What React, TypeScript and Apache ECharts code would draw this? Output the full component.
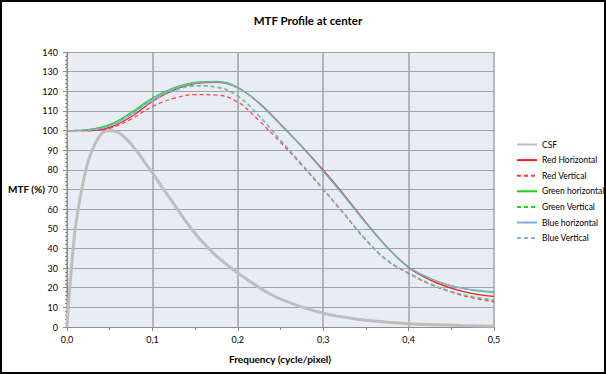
import React, { useEffect, useRef } from "react";
import * as echarts from "echarts";

const freq = [0, 0.025, 0.05, 0.075, 0.1, 0.125, 0.15, 0.175, 0.2, 0.225, 0.25, 0.275, 0.3, 0.325, 0.35, 0.375, 0.4, 0.425, 0.45, 0.475, 0.5];

const redH = [100, 100, 101.6, 107, 114.8, 120.6, 123.9, 124.5, 121.8, 114, 103.3, 92, 80, 67, 53.3, 40.6, 30.3, 24, 19.8, 17, 15.6];
const redV = [100, 100, 101.2, 105.8, 112.2, 116.4, 118.3, 118.1, 114.5, 105, 94, 82.3, 70, 57.2, 44.2, 33.8, 27.3, 21.8, 17.7, 14.8, 12.8];
const greenH = [100, 100.5, 103, 109.2, 116.6, 121.8, 124.6, 125.1, 121.9, 113.8, 103, 91.7, 79.4, 66.4, 52.9, 40.4, 30.6, 24.8, 21, 18.8, 17.6];
const greenV = [100, 100.5, 102.8, 108.7, 115.8, 120.6, 122.9, 122.2, 117.6, 107.5, 95.2, 82.9, 70.3, 57.5, 44.5, 34, 27.5, 22, 18, 15.3, 13.6];
const blueH = [100, 100.3, 102.4, 108.3, 115.8, 121.2, 124.2, 124.8, 121.8, 113.8, 103, 91.7, 79.5, 66.5, 53, 40.5, 30.6, 24.7, 20.9, 18.9, 18];
const blueV = [100, 100.3, 102.3, 107.9, 115, 120.1, 122.6, 122, 117.4, 107.3, 95.1, 82.9, 70.4, 57.6, 44.6, 34.1, 27.6, 22.1, 18.1, 15.5, 13.9];

const csfFreq = [0, 0.0025, 0.005, 0.0075, 0.01, 0.015, 0.02, 0.025, 0.03, 0.035, 0.04, 0.045, 0.05, 0.06, 0.07, 0.08, 0.09, 0.1, 0.11, 0.12, 0.13, 0.14, 0.15, 0.16, 0.17, 0.18, 0.19, 0.2, 0.22, 0.24, 0.26, 0.28, 0.3, 0.32, 0.34, 0.36, 0.38, 0.4, 0.43, 0.46, 0.5];
const csf = [0, 16, 29, 41, 51, 65, 76, 84.5, 90.5, 95, 98.3, 99.7, 100, 99, 95.5, 90.5, 84.5, 78.5, 72, 65.8, 59.5, 53.3, 47.6, 42.6, 38.2, 34.3, 30.8, 27.5, 21.5, 16.3, 12.5, 9.5, 7, 5.3, 4, 3, 2.3, 1.7, 1.2, 0.8, 0.4];

const legendNames = ["CSF", "Red Horizontal", "Red Vertical", "Green horizontal", "Green Vertical", "Blue horizontal", "Blue Vertical"];

const titleText = "MTF Profile at center";
const xName = "Frequency (cycle/pixel)";
const yName = "MTF (%)";

const FONT = "Lato, 'Open Sans', sans-serif";

function pairs(xs: number[], ys: number[]) {
  return xs.map((x, i) => [x, ys[i]]);
}

export default function App() {
  const ref = useRef<HTMLDivElement>(null);
  useEffect(() => {
    const chart = echarts.init(ref.current!, null, { renderer: "svg" });
    const mk = (name: string, data: number[], color: string, dashed: boolean) => ({
      name,
      type: "line",
      data: pairs(freq, data),
      smooth: 0.4,
      showSymbol: false,
      symbol: "none",
      lineStyle: { color, width: 1.2, type: dashed ? [4, 3] : "solid" },
      itemStyle: { color },
      z: 3,
    });
    chart.setOption({
      animation: false,
      backgroundColor: "#ffffff",
      textStyle: { fontFamily: FONT },
      grid: { left: 67, right: 112, top: 52, bottom: 47, show: true, backgroundColor: "#E8ECF5", borderWidth: 0 },
      graphic: [
        { type: "text", x: 308, y: 20, style: { text: titleText, font: `bold 11.5px ${FONT}`, fill: "#000", align: "center", verticalAlign: "middle" } },
        { type: "text", x: 280, y: 359, style: { text: xName, font: `bold 10px ${FONT}`, fill: "#000", align: "center", verticalAlign: "middle" } },
        { type: "text", x: 8, y: 189, style: { text: yName, font: `bold 10px ${FONT}`, fill: "#000", align: "left", verticalAlign: "middle" } },
      ],
      legend: {
        orient: "vertical",
        left: 511,
        top: 135,
        itemWidth: 20,
        itemHeight: 2,
        itemGap: 6.6,
        textStyle: { fontSize: 8.5, color: "#000", fontFamily: FONT },
        data: legendNames,
      },
      xAxis: {
        type: "value",
        min: 0,
        max: 0.5,
        interval: 0.1,
        axisLine: { show: true, lineStyle: { color: "#8C8C8C", width: 1 } },
        axisTick: { show: true, length: 4, lineStyle: { color: "#8C8C8C" } },
        minorTick: { show: true, splitNumber: 2, length: 3, lineStyle: { color: "#8C8C8C" } },
        axisLabel: { fontSize: 9, color: "#000", margin: 8, formatter: (v: number) => v.toFixed(1).replace(".", ",") },
        splitLine: { show: true, lineStyle: { color: "#A3A3A3", width: 1.5 } },
      },
      yAxis: {
        type: "value",
        min: 0,
        max: 140,
        interval: 10,
        axisLine: { show: true, lineStyle: { color: "#8C8C8C", width: 1 } },
        axisTick: { show: true, length: 4, lineStyle: { color: "#8C8C8C" } },
        minorTick: { show: true, splitNumber: 5, length: 2, lineStyle: { color: "#8C8C8C" } },
        axisLabel: { fontSize: 9, color: "#000", margin: 9 },
        splitLine: { show: true, lineStyle: { color: "#A3A3A3", width: 1.2 } },
      },
      series: [
        {
          name: "CSF",
          type: "line",
          data: pairs(csfFreq, csf),
          smooth: 0.4,
          showSymbol: false,
          symbol: "none",
          lineStyle: { color: "#BEBEBE", width: 3 },
          itemStyle: { color: "#BEBEBE" },
          z: 2,
        },
        mk("Red Horizontal", redH, "#FF1A1A", false),
        mk("Red Vertical", redV, "#FF3B3B", true),
        mk("Green horizontal", greenH, "#19D619", false),
        mk("Green Vertical", greenV, "#19D619", true),
        mk("Blue horizontal", blueH, "#7FA8E3", false),
        mk("Blue Vertical", blueV, "#8DB0E0", true),
      ],
    });
    return () => chart.dispose();
  }, []);
  return (
    <div style={{ position: "absolute", left: 0, top: 0, width: 606, height: 374, background: "#fff" }}>
      <div ref={ref} style={{ position: "absolute", left: 0, top: 0, width: 606, height: 374 }} />
      <div style={{ position: "absolute", left: 0, top: 0, width: 606, height: 374, boxSizing: "border-box", border: "2px solid #000", pointerEvents: "none" }} />
    </div>
  );
}
